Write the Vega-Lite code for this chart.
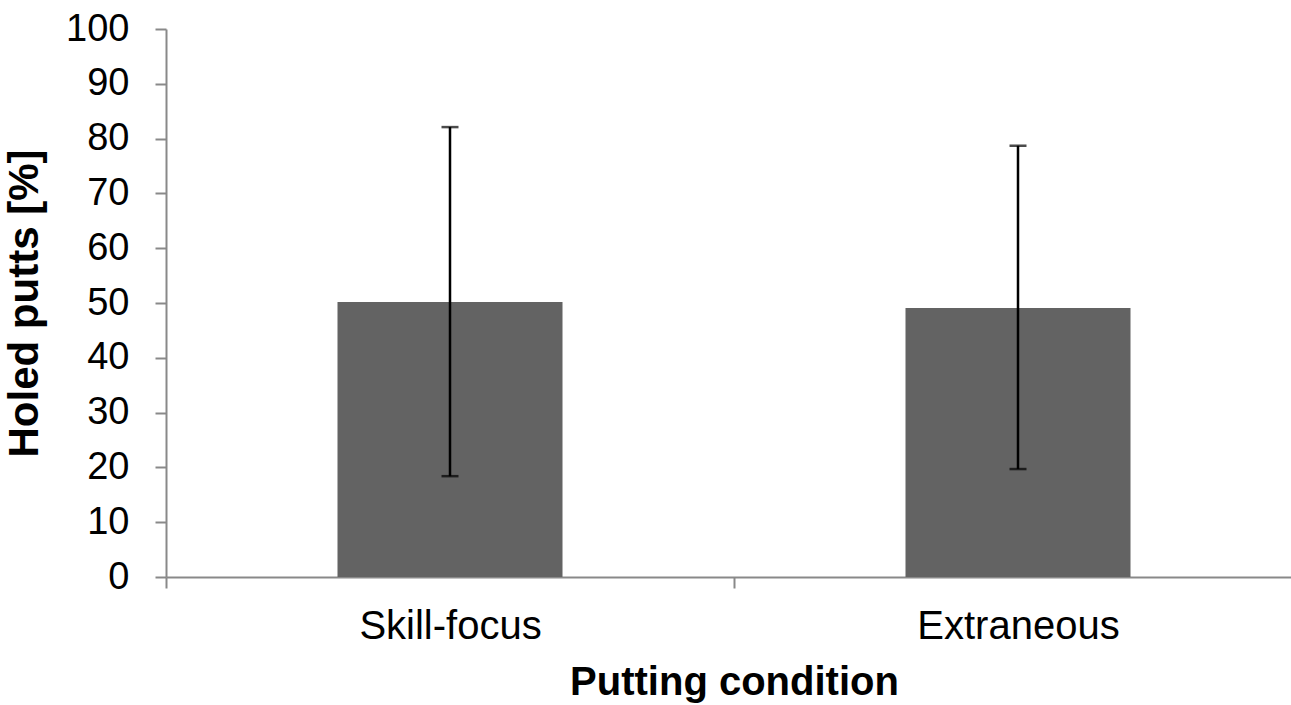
{
  "$schema": "https://vega.github.io/schema/vega-lite/v6.json",
  "autosize": "none",
  "width": 1125,
  "height": 548,
  "padding": {"left": 166, "top": 29, "right": 0, "bottom": 128},
  "background": "white",
  "config": {"view": {"stroke": null}, "font": "Liberation Sans"},
  "data": {"values": [
    {"condition": "Skill-focus", "mean": 50.2, "lo": 18.4, "hi": 82.1},
    {"condition": "Extraneous", "mean": 49.1, "lo": 19.7, "hi": 78.7}
  ]},
  "encoding": {
    "x": {
      "field": "condition", "type": "nominal", "sort": null,
      "scale": {"range": [0, 1136], "paddingInner": 0, "paddingOuter": 0},
      "axis": {
        "title": "Putting condition", "titleFontSize": 40, "titleFontWeight": "bold", "titleColor": "black",
        "titlePadding": 16,
        "labelFontSize": 40, "labelColor": "black", "labelAngle": 0, "labelPadding": 18, "labelLimit": 0,
        "tickBand": "extent", "tickSize": 11, "tickWidth": 2, "tickColor": "#898989",
        "domainColor": "#898989", "domainWidth": 2, "grid": false
      }
    }
  },
  "layer": [
    {
      "mark": {"type": "bar", "width": 225, "color": "#636363"},
      "encoding": {
        "y": {
          "field": "mean", "type": "quantitative",
          "scale": {"domain": [0, 100], "nice": false},
          "axis": {
            "title": "Holed putts [%]", "titleFontSize": 42, "titleFontWeight": "bold", "titleColor": "black",
            "titlePadding": 19,
            "labelFontSize": 38, "labelColor": "black", "labelPadding": 26,
            "values": [0, 10, 20, 30, 40, 50, 60, 70, 80, 90, 100],
            "tickSize": 11, "tickWidth": 2, "tickColor": "#898989",
            "domainColor": "#898989", "domainWidth": 2, "grid": false
          }
        }
      }
    },
    {
      "mark": {"type": "rule", "color": "black", "strokeWidth": 2.5},
      "encoding": {
        "y": {"field": "lo", "type": "quantitative"},
        "y2": {"field": "hi"}
      }
    },
    {
      "mark": {"type": "tick", "color": "black", "size": 17, "thickness": 2.5},
      "encoding": {"y": {"field": "lo", "type": "quantitative"}}
    },
    {
      "mark": {"type": "tick", "color": "black", "size": 17, "thickness": 2.5},
      "encoding": {"y": {"field": "hi", "type": "quantitative"}}
    }
  ]
}
